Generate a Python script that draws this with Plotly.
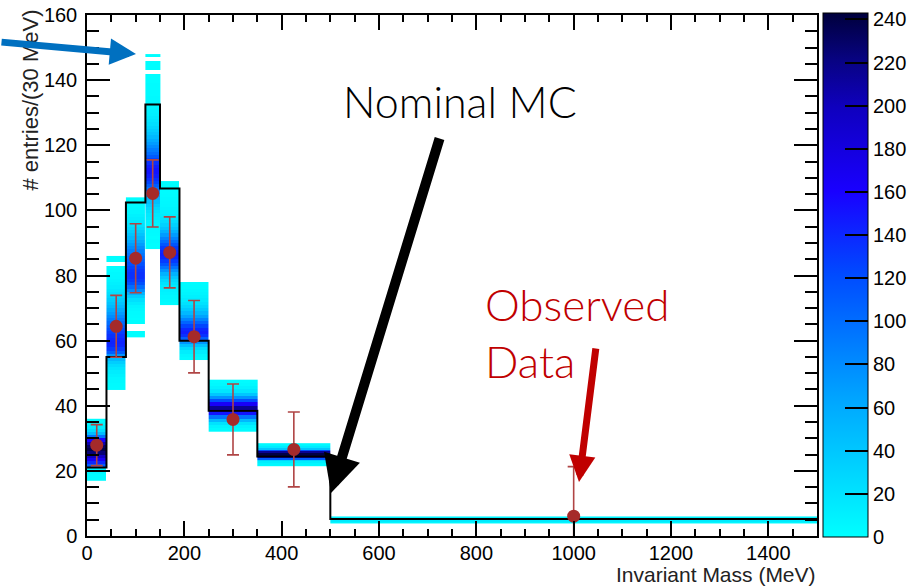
import plotly.graph_objects as go

# ---------------- data ----------------
bin_edges = [0, 40, 80, 120, 150, 190, 250, 350, 500, 1500]
nominal_mc = [21.0, 55.0, 102.4, 132.5, 106.7, 60.0, 38.5, 24.4, 5.2]

data_x = [20, 60, 100, 135, 170, 220, 300, 425, 1000]
data_y = [27.9, 64.4, 85.3, 105.2, 87.1, 61.2, 35.8, 26.6, 6.1]
data_err = [6.3, 9.5, 10.6, 10.3, 10.9, 11.1, 10.9, 11.5, 15.2]

# universe (systematic variation) distributions per mass bin:
# first row lower edge, row height, and counts per row
univ_start = [17, 45, 61, 88, 71, 54, 32, 21.5, 4.0]
univ_step = [1, 1, 1, 1, 1, 1, 1, 0.5, 0.5]
univ_b1 = [2, 3, 6, 12, 110, 140, 165, 195, 225, 238, 230, 205, 160, 95, 48, 24, 12, 6, 3]
univ_b2 = [2, 3, 4, 6, 9, 13, 18, 25, 35, 50, 75, 110, 130, 140, 142, 140, 135, 128, 120, 110,
           100, 90, 80, 70, 60, 50, 42, 35, 28, 22, 17, 13, 10, 7, 5, 4, 2, 1, 0, 1, 1]
univ_b3 = [1, 1, 0, 0, 1, 1, 2, 3, 5, 8, 14, 22, 35, 55, 80, 100, 118, 128, 135, 135,
           132, 126, 118, 110, 102, 95, 88, 80, 70, 60, 50, 42, 34, 27, 21, 16, 12, 9, 6, 4,
           3, 2, 1]
univ_b4 = [1, 1, 2, 1, 2, 3, 4, 6, 8, 12, 15, 20, 28, 36, 45, 55, 65, 80, 95, 110,
           125, 135, 145, 150, 150, 145, 135, 125, 112, 100, 90, 80, 70, 60, 50, 42, 35, 28, 22, 18,
           14, 11, 9, 7, 6, 5, 4, 3, 3, 2, 2, 1, 1, 1, 0, 1, 1, 1, 0, 1]
univ_b5 = [2, 4, 6, 8, 10, 14, 20, 28, 40, 55, 75, 95, 115, 130, 140, 145, 140, 130, 115, 100,
           85, 70, 55, 42, 32, 24, 18, 13, 10, 8, 6, 5, 4, 3, 2, 2, 1, 1]
univ_b6 = [3, 6, 12, 25, 45, 75, 110, 135, 145, 140, 125, 105, 85, 65, 50, 38, 28, 20, 14, 10,
           7, 5, 3, 2]
univ_b7 = [3, 8, 20, 50, 95, 150, 200, 215, 165, 120, 75, 40, 18, 9, 4, 2]
univ_b8 = [2, 6, 12, 30, 110, 200, 235, 240, 215, 120, 40, 14, 6, 3]
univ_b9 = [5, 15, 243, 8]
univ_counts = [univ_b1, univ_b2, univ_b3, univ_b4, univ_b5, univ_b6, univ_b7, univ_b8, univ_b9]

colorbar_ticks = [0, 20, 40, 60, 80, 100, 120, 140, 160, 180, 200, 220, 240]
z_max = 243

# ---------------- figure ----------------
W, H = 908, 587
L, R, T, B = 87, 91, 15, 51
PW, PH = W - L - R, H - T - B


def px(x):
    return (x - L) / PW


def py(y):
    return (H - B - y) / PH


FONT = "Liberation Sans"
fig = go.Figure()

for i, counts in enumerate(univ_counts):
    y0, dy = univ_start[i], univ_step[i]
    yedges = [y0 + k * dy for k in range(len(counts) + 1)]
    z = [[c if c > 0 else None] for c in counts]
    fig.add_trace(go.Heatmap(
        x=[bin_edges[i], bin_edges[i + 1]], y=yedges, z=z,
        coloraxis="coloraxis", hoverinfo="skip", xgap=0, ygap=0))

# nominal MC step histogram
fig.add_trace(go.Scatter(
    x=bin_edges, y=nominal_mc + [nominal_mc[-1]], mode="lines",
    line=dict(color="black", width=2, shape="hv"), hoverinfo="skip"))

# observed data
fig.add_trace(go.Scatter(
    x=data_x, y=data_y, mode="markers",
    marker=dict(color="#A52A2A", size=13, symbol="circle"),
    error_y=dict(type="data", array=data_err, visible=True, color="#B04545",
                 thickness=1.6, width=6),
    hoverinfo="skip"))

colorscale = [
    [0.0, "rgb(0,255,255)"],
    [0.25, "rgb(0,170,255)"],
    [0.5, "rgb(0,75,255)"],
    [0.66, "rgb(25,0,255)"],
    [0.82, "rgb(15,0,190)"],
    [0.91, "rgb(8,3,130)"],
    [1.0, "rgb(0,0,60)"],
]

fig.update_layout(
    width=W, height=H,
    margin=dict(l=L, r=R, t=T, b=B, autoexpand=False),
    paper_bgcolor="white", plot_bgcolor="white",
    showlegend=False,
    font=dict(family=FONT, size=20, color="black"),
    coloraxis=dict(
        colorscale=colorscale, cmin=0, cmax=z_max,
        colorbar=dict(
            x=px(823), xanchor="left", y=py(537), yanchor="bottom",
            len=(537 - 13) / PH, lenmode="fraction",
            thickness=45, thicknessmode="pixels",
            xpad=0, ypad=0,
            outlinewidth=1, outlinecolor="black",
            tickmode="array", tickvals=colorbar_ticks,
            ticks="inside", ticklen=23, tickwidth=1.5, tickcolor="black",
            tickfont=dict(family=FONT, size=20, color="black"),
        ),
    ),
    xaxis=dict(
        range=[0, 1500], showgrid=False, zeroline=False,
        showline=True, linecolor="black", linewidth=1.5, mirror="allticks",
        ticks="inside", ticklen=15, tickwidth=1.5, tickcolor="black",
        dtick=200, tick0=0,
        minor=dict(dtick=50, ticks="inside", ticklen=7, tickwidth=1.5, tickcolor="black"),
        tickfont=dict(family=FONT, size=20, color="black"),
        ticklabelstandoff=-2, automargin=False,
    ),
    yaxis=dict(
        range=[0, 160], showgrid=False, zeroline=False,
        showline=True, linecolor="black", linewidth=1.5, mirror="allticks",
        ticks="inside", ticklen=23, tickwidth=1.5, tickcolor="black",
        dtick=20, tick0=0,
        minor=dict(dtick=5, ticks="inside", ticklen=12, tickwidth=1.5, tickcolor="black"),
        tickfont=dict(family=FONT, size=20, color="black"),
        ticklabelstandoff=4, automargin=False,
    ),
)

ann = []
# axis titles (ROOT style: at the end of the axes)
ann.append(dict(text="Invariant Mass (MeV)", xref="paper", yref="paper",
                x=1.0, y=py(574), xanchor="right", yanchor="middle", showarrow=False,
                borderpad=0,
                font=dict(family=FONT, size=21, color="#222")))
ann.append(dict(text="# entries/(30 MeV)", xref="paper", yref="paper",
                x=px(30), y=py(8), xanchor="center", yanchor="top", textangle=-90,
                showarrow=False, font=dict(family=FONT, size=22, color="#222")))

LABEL_FONT = "Lato"
ann.append(dict(text="Nominal MC", xref="paper", yref="paper",
                x=px(341), y=py(102), xanchor="left", yanchor="middle", showarrow=False,
                font=dict(family=LABEL_FONT, size=43, color="black", weight=300)))
ann.append(dict(text="Observed<br>Data", xref="paper", yref="paper", align="left",
                x=px(483), y=py(276), xanchor="left", yanchor="top", showarrow=False,
                font=dict(family=LABEL_FONT, size=44, color="#C00000", weight=300)))

# arrows
ann.append(dict(text="", xref="paper", yref="paper", x=px(331), y=py(493),
                ax=440 - 331, ay=137 - 493, axref="pixel", ayref="pixel",
                showarrow=True, arrowhead=2, arrowsize=0.75, arrowwidth=10,
                arrowcolor="black", standoff=0, startstandoff=0))
ann.append(dict(text="", xref="paper", yref="paper", x=px(579), y=py(482),
                ax=596 - 579, ay=347 - 482, axref="pixel", ayref="pixel",
                showarrow=True, arrowhead=2, arrowsize=0.75, arrowwidth=7,
                arrowcolor="#C00000", standoff=0, startstandoff=0))
ann.append(dict(text="", xref="paper", yref="paper", x=px(136), y=py(54),
                ax=-8 - 136, ay=42 - 54, axref="pixel", ayref="pixel",
                showarrow=True, arrowhead=2, arrowsize=0.75, arrowwidth=7,
                arrowcolor="#0070C0", standoff=0, startstandoff=0))

fig.update_layout(annotations=ann)

fig.write_html(
    "out.html",
    config={"displayModeBar": False},
    post_script="document.body.style.margin='0px';document.body.style.overflow='hidden';",
)
